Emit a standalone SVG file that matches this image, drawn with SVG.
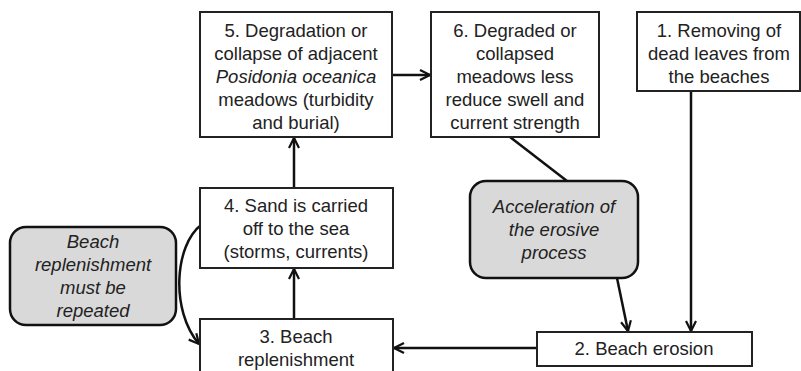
<svg xmlns="http://www.w3.org/2000/svg" width="801" height="371" viewBox="0 0 801 371">
<defs>
<marker id="arr" markerUnits="userSpaceOnUse" markerWidth="14" markerHeight="14" refX="11" refY="6" orient="auto" overflow="visible">
<path d="M1,1 L11,6 L1,11" fill="none" stroke="#111" stroke-width="2.2" stroke-linejoin="miter"/>
</marker>
</defs>
<style>
.box{fill:#fff;stroke:#222;stroke-width:2}
.rbox{fill:#d9d9d9;stroke:#111;stroke-width:2.5}
text{font-family:"Liberation Sans",Arial,sans-serif;font-size:18.5px;fill:#222;text-anchor:middle}
.it{font-style:italic}
.c{fill:none;stroke:#111;stroke-width:2.5}
</style>
<rect width="801" height="371" fill="#fff"/>
<g id="connectors">
<line class="c" x1="392" y1="75" x2="430" y2="75" marker-end="url(#arr)"/>
<line class="c" x1="294" y1="188" x2="294" y2="138" marker-end="url(#arr)"/>
<line class="c" x1="294" y1="319" x2="294" y2="269" marker-end="url(#arr)"/>
<line class="c" x1="537" y1="348" x2="394" y2="348" marker-end="url(#arr)"/>
<line class="c" x1="691" y1="91" x2="691" y2="331" marker-end="url(#arr)"/>
<line class="c" x1="510" y1="137" x2="567" y2="181"/>
<line class="c" x1="617" y1="278" x2="628" y2="331" marker-end="url(#arr)"/>
<path class="c" d="M201,225 C175,245 170,310 199,344" marker-end="url(#arr)"/>
</g>
<g id="n5">
<rect class="box" x="200" y="12" width="192" height="125"/>
<text x="296" y="37">5. Degradation or</text>
<text x="296" y="60">collapse of adjacent</text>
<text x="296" y="83"><tspan class="it">Posidonia oceanica</tspan></text>
<text x="296" y="106">meadows (turbidity</text>
<text x="296" y="129">and burial)</text>
</g>
<g id="n6">
<rect class="box" x="431" y="12" width="168" height="125"/>
<text x="515" y="37">6. Degraded or</text>
<text x="515" y="60">collapsed</text>
<text x="515" y="83">meadows less</text>
<text x="515" y="106">reduce swell and</text>
<text x="515" y="129">current strength</text>
</g>
<g id="n1">
<rect class="box" x="637" y="12" width="163" height="79"/>
<text x="719" y="37">1. Removing of</text>
<text x="719" y="60">dead leaves from</text>
<text x="719" y="83">the beaches</text>
</g>
<g id="n4">
<rect class="box" x="200" y="188" width="193" height="80"/>
<text x="296" y="212">4. Sand is carried</text>
<text x="296" y="235">off to the sea</text>
<text x="296" y="258">(storms, currents)</text>
</g>
<g id="n3">
<rect class="box" x="200" y="319" width="193" height="70"/>
<text x="296" y="343">3. Beach</text>
<text x="296" y="366">replenishment</text>
</g>
<g id="n2">
<rect class="box" x="537" y="332" width="215" height="34"/>
<text x="644" y="355">2. Beach erosion</text>
</g>
<g id="nRepeat">
<rect class="rbox" x="10" y="227" width="166" height="98" rx="16"/>
<text class="it" x="93" y="248">Beach</text>
<text class="it" x="93" y="271">replenishment</text>
<text class="it" x="93" y="294">must be</text>
<text class="it" x="93" y="317">repeated</text>
</g>
<g id="nAccel">
<rect class="rbox" x="470" y="181" width="168" height="97" rx="16"/>
<text class="it" x="554" y="213">Acceleration of</text>
<text class="it" x="554" y="236">the erosive</text>
<text class="it" x="554" y="259">process</text>
</g>
</svg>
